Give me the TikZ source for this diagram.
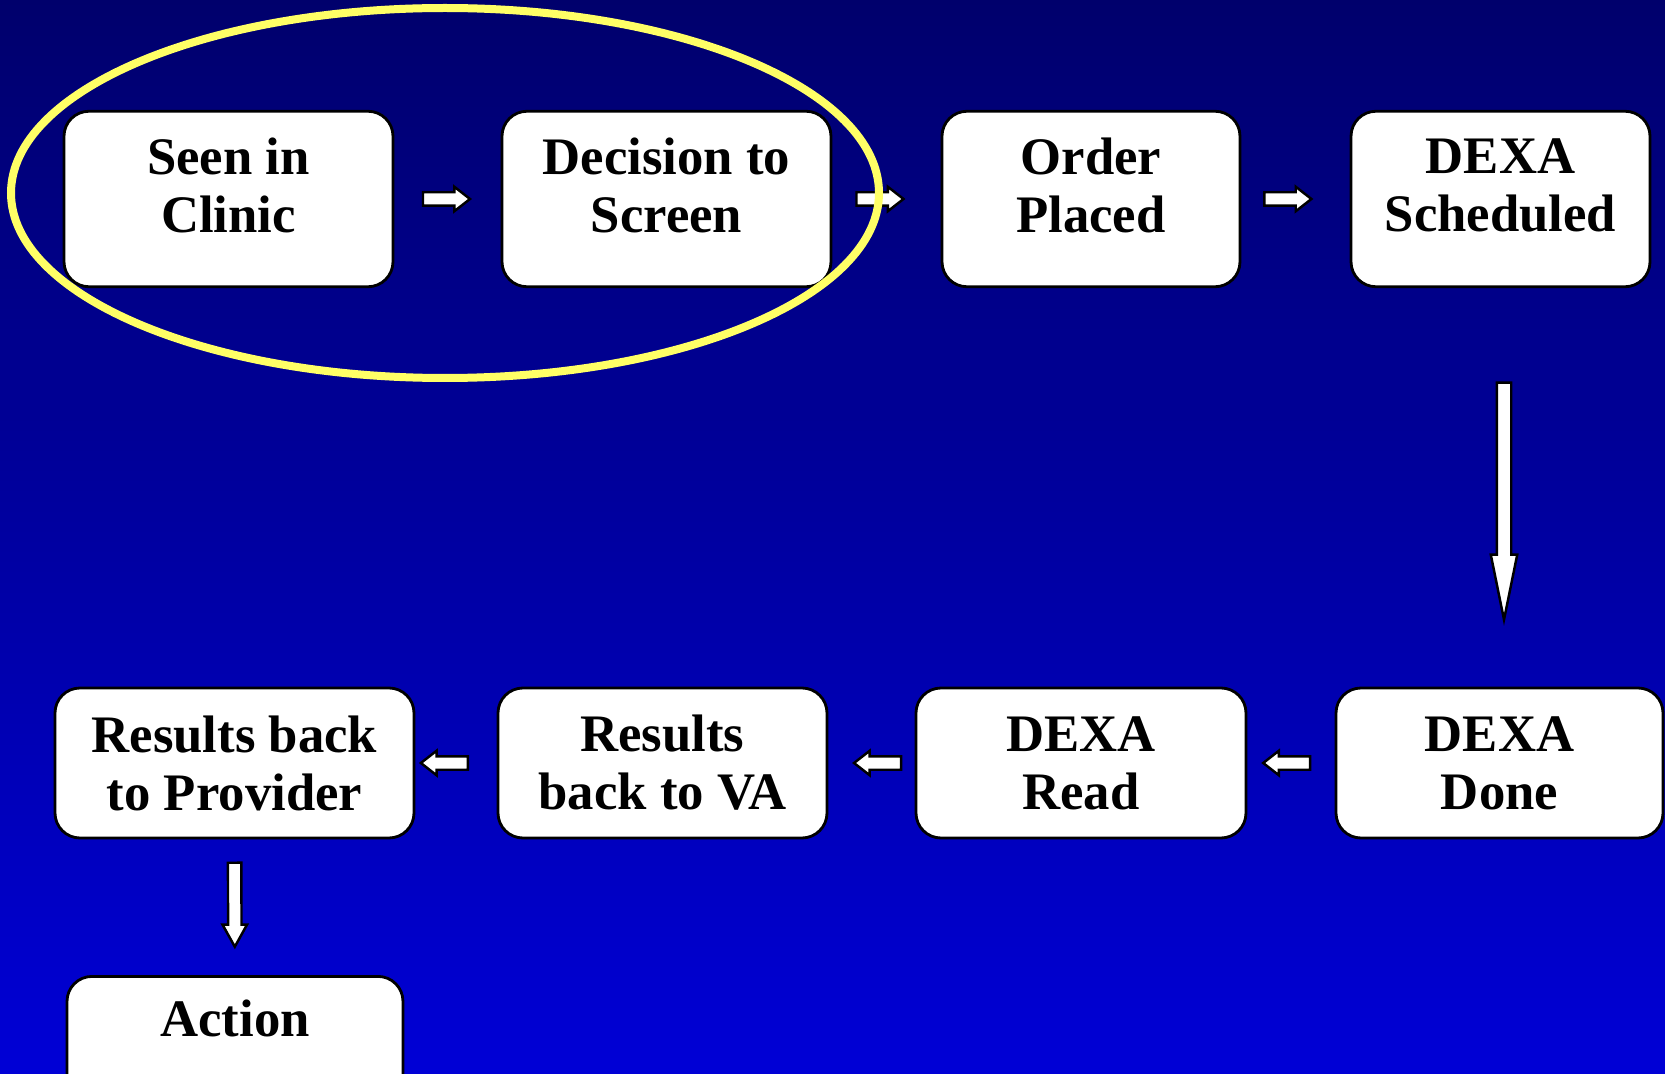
\documentclass[tikz,border=0pt]{standalone}
\usepackage{fontspec}
\setmainfont{Liberation Serif}
\usetikzlibrary{shapes.arrows}
\definecolor{skytop}{RGB}{0,0,108}
\definecolor{skybottom}{RGB}{0,0,214}
\definecolor{ringyellow}{RGB}{255,255,102}
\tikzset{
  stepbox/.style={draw=black, line width=0.8pt, fill=white, rounded corners=0.25cm,
    align=center, inner sep=0pt, font=\fontsize{15}{16.5}\selectfont\bfseries},
  topbox/.style={stepbox, minimum height=1.755cm, text depth=0.28cm},
  lowbox/.style={stepbox, minimum height=1.50cm},
  blockarrow/.style={single arrow, draw=black, line width=0.7pt, fill=white,
    inner xsep=0pt, inner ysep=0.055cm, single arrow head extend=0.055cm,
    single arrow tip angle=76, minimum height=0.47cm, sloped, allow upside down}
}
\begin{document}
\begin{tikzpicture}
  \shade[top color=skytop, bottom color=skybottom] (0,0) rectangle (16.65,10.73);
  \clip (0,0) rectangle (16.65,10.73);
  \node[topbox, minimum width=3.29cm] (seen) at (2.285,8.74) {Seen in\\Clinic};
  \node[topbox, minimum width=3.29cm] (decision) at (6.665,8.74) {Decision to\\Screen};
  \node[topbox, minimum width=2.98cm] (order) at (10.91,8.74) {Order\\Placed};
  \node[topbox, minimum width=2.99cm] (sched) at (15.005,8.74) {DEXA\\Scheduled};
  \node[lowbox, minimum width=3.27cm] (done) at (14.995,3.10) {DEXA\\Done};
  \node[lowbox, minimum width=3.30cm] (read) at (10.81,3.10) {DEXA\\Read};
  \node[lowbox, minimum width=3.29cm] (backva) at (6.625,3.10) {Results\\back to VA};
  \node[lowbox, minimum width=3.59cm] (provider) at (2.345,3.10) {Results back\\to Provider};
  \node[stepbox, anchor=north, minimum width=3.36cm, text height=0.6cm, text depth=0.8cm] (action) at (2.35,0.98) {Action};
  \path (seen) -- node[blockarrow, pos=0.45] {} (decision);
  \path (decision) -- node[blockarrow, pos=0.40] {} (order);
  \path (order) -- node[blockarrow, pos=0.39] {} (sched);
  \path (sched.south -| 15.04,0) -- node[blockarrow, pos=0.49, minimum height=2.37cm, inner ysep=0.06cm,
    single arrow head extend=0.06cm, single arrow tip angle=23] {} (done.north -| 15.04,0);
  \path (done) -- node[blockarrow, pos=0.5] {} (read);
  \path (read) -- node[blockarrow, pos=0.38] {} (backva);
  \path (backva) -- node[blockarrow, pos=0.59] {} (provider);
  \path (provider) -- node[blockarrow, pos=0.437, minimum height=0.84cm,
    single arrow tip angle=58] {} (action);
  \draw[ringyellow, line width=0.08cm] (4.45,8.80) ellipse [x radius=4.34, y radius=1.85];
\end{tikzpicture}
\end{document}
